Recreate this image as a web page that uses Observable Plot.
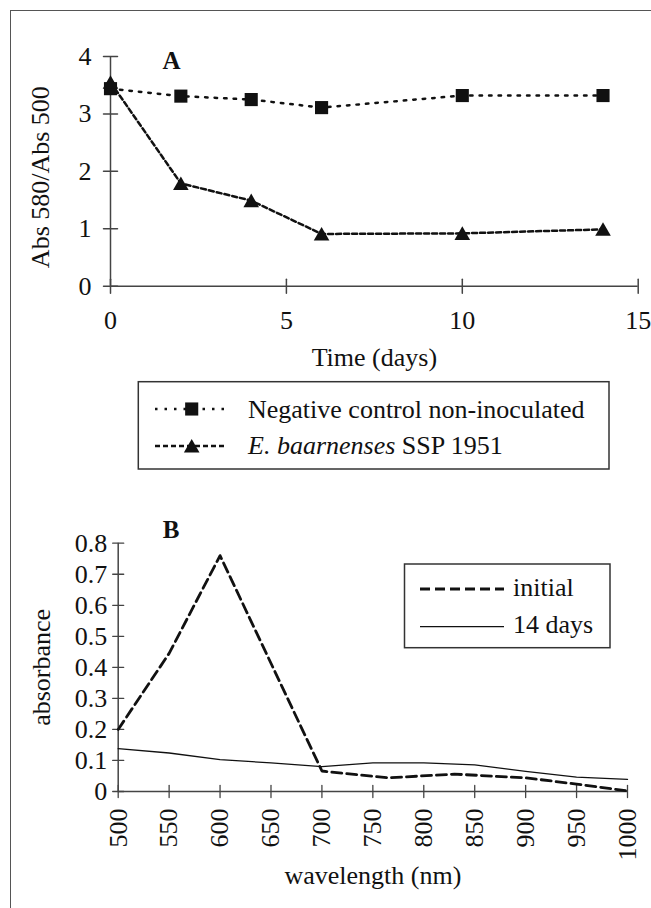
<!DOCTYPE html>
<html><head><meta charset="utf-8">
<script src="https://cdn.jsdelivr.net/npm/d3@7"></script>
<script src="https://cdn.jsdelivr.net/npm/@observablehq/plot@0.6"></script>
<style>
html,body{margin:0;padding:0;background:#fff;}
body{width:651px;height:908px;overflow:hidden;position:relative;font-family:"Liberation Serif","Times New Roman",serif;}
#frame{position:absolute;left:10px;top:10px;width:700px;height:1000px;border:1.5px solid #555;}
#a,#b{position:absolute;left:0;}
#a{top:0}
#b{top:500px}
svg{overflow:visible}
</style></head><body>
<div id="frame"></div>
<div id="a"></div>
<div id="b"></div>
<svg id="legA" width="651" height="908" style="position:absolute;left:0;top:0;pointer-events:none"></svg>
<script>
// ---- Panel A data ----
const days = [0, 2, 4, 6, 10, 14];
const control = [3.44, 3.31, 3.25, 3.11, 3.32, 3.32];
const ebaar = [3.55, 1.79, 1.49, 0.91, 0.92, 0.99];
const xTicksA = [0, 5, 10, 15];
const yTicksA = [0, 1, 2, 3, 4];
const seriesA = ["Negative control non-inoculated", "E. baarnenses SSP 1951"];

// ---- Panel B data ----
const wlInitial = [500, 550, 600, 700, 765, 830, 900, 950, 1000];
const absInitial = [0.20, 0.445, 0.76, 0.066, 0.044, 0.056, 0.044, 0.024, 0.002];
const wl14 = [500, 550, 600, 650, 700, 750, 800, 850, 900, 950, 1000];
const abs14 = [0.138, 0.124, 0.103, 0.092, 0.080, 0.092, 0.092, 0.086, 0.065, 0.046, 0.039];
const xTicksB = [500, 550, 600, 650, 700, 750, 800, 850, 900, 950, 1000];
const yTicksB = [0, 0.1, 0.2, 0.3, 0.4, 0.5, 0.6, 0.7, 0.8];
const yTickLabelsB = ["0", "0.1", "0.2", "0.3", "0.4", "0.5", "0.6", "0.7", "0.8"];
const seriesB = ["initial", "14 days"];

const FONT = "'Liberation Serif', 'Times New Roman', serif";
const AX = "#444";
const INK = "#111";
const tickShape = {draw(ctx, l) { ctx.moveTo(0, 0); ctx.lineTo(0, -l); }};

const tableA = days.map((d, i) => ({day: d, control: control[i], ebaar: ebaar[i]}));
const tableBi = wlInitial.map((w, i) => ({wl: w, v: absInitial[i]}));
const tableB14 = wl14.map((w, i) => ({wl: w, v: abs14[i]}));

const plotA = Plot.plot({
  width: 651, height: 380,
  marginLeft: 110, marginRight: 13.3, marginTop: 56, marginBottom: 94.3,
  style: {fontFamily: FONT, fontSize: "26px", color: INK, background: "transparent", overflow: "visible"},
  x: {domain: [0, 15]},
  y: {domain: [0, 4]},
  marks: [
    Plot.ruleX([0], {stroke: AX, strokeWidth: 1.5}),
    Plot.ruleY([0], {stroke: AX, strokeWidth: 1.5}),
    Plot.vector(xTicksA, {x: d => d, y: () => 0, length: 14, anchor: "middle", shape: tickShape, stroke: AX, strokeWidth: 1.5}),
    Plot.vector(yTicksA, {x: () => 0, y: d => d, length: 14, rotate: 90, anchor: "middle", shape: tickShape, stroke: AX, strokeWidth: 1.5}),
    Plot.axisX(xTicksA, {tickSize: 0, tickPadding: 24, label: null, fontSize: 26, tickFormat: d => String(d)}),
    Plot.axisY(yTicksA, {tickSize: 0, tickPadding: 19, label: null, fontSize: 26, tickFormat: d => String(d)}),
    Plot.line(tableA, {x: "day", y: "control", stroke: INK, strokeWidth: 2.5, strokeDasharray: "2.5 7"}),
    Plot.line(tableA, {x: "day", y: "ebaar", stroke: INK, strokeWidth: 2.5, strokeDasharray: "5 3"}),
    Plot.dot(tableA, {x: "day", y: "control", symbol: "square", r: 7.4, fill: INK, stroke: "none"}),
    Plot.dot(tableA, {x: "day", y: "ebaar", symbol: "triangle", r: 5.8, fill: INK, stroke: "none", dy: 2}),
    Plot.text(["Time (days)"], {frameAnchor: "bottom", dy: 79.3, lineAnchor: "bottom", textAnchor: "middle", fontSize: 26, fill: INK}),
    Plot.text(["Abs 580/Abs 500"], {frameAnchor: "left", rotate: -90, dx: -70, dy: 5.8, lineAnchor: "middle", textAnchor: "middle", fontSize: 26, fill: INK}),
    Plot.text(["A"], {frameAnchor: "top-left", dx: 61, dy: 12, lineAnchor: "bottom", textAnchor: "middle", fontSize: 25, fontWeight: "bold", fill: INK})
  ]
});
document.getElementById("a").append(plotA);

const plotB = Plot.plot({
  width: 651, height: 408,
  marginLeft: 117.7, marginRight: 24, marginTop: 42.7, marginBottom: 117,
  style: {fontFamily: FONT, fontSize: "26px", color: INK, background: "transparent", overflow: "visible"},
  x: {domain: [500, 1000]},
  y: {domain: [0, 0.8]},
  marks: [
    Plot.ruleX([500], {stroke: AX, strokeWidth: 1.5}),
    Plot.ruleY([0], {stroke: AX, strokeWidth: 1.5}),
    Plot.vector(xTicksB, {x: d => d, y: () => 0, length: 12, anchor: "middle", shape: tickShape, stroke: AX, strokeWidth: 1.3}),
    Plot.vector(yTicksB, {x: () => 500, y: d => d, length: 11, rotate: 90, anchor: "middle", shape: tickShape, stroke: AX, strokeWidth: 1.3}),
    Plot.axisX(xTicksB, {tickSize: 0, tickPadding: 17, tickRotate: -90, label: null, fontSize: 26, tickFormat: d => String(d)}),
    Plot.axisY(yTicksB, {tickSize: 0, tickPadding: 11, label: null, fontSize: 26, tickFormat: d => yTickLabelsB[yTicksB.indexOf(d)]}),
    Plot.line(tableB14, {x: "wl", y: "v", stroke: INK, strokeWidth: 1.3}),
    Plot.line(tableBi, {x: "wl", y: "v", stroke: INK, strokeWidth: 2.8, strokeDasharray: "10 5"}),
    Plot.text(["wavelength (nm)"], {frameAnchor: "bottom", dy: 92, lineAnchor: "bottom", textAnchor: "middle", fontSize: 26, fill: INK}),
    Plot.text(["absorbance"], {frameAnchor: "left", rotate: -90, dx: -76.2, dy: 0, lineAnchor: "middle", textAnchor: "middle", fontSize: 26, fill: INK}),
    Plot.text(["B"], {frameAnchor: "top-left", dx: 52.8, dy: -5.4, lineAnchor: "bottom", textAnchor: "middle", fontSize: 25, fontWeight: "bold", fill: INK})
  ]
});
document.getElementById("b").append(plotB);

// ---- Legends (overlay) ----
const leg = d3.select("#legA");
function symbolPath(type, r) { return d3.symbol(type, Math.PI * r * r)(); }
// Legend A
leg.append("rect").attr("x", 138.3).attr("y", 381.7).attr("width", 470.7).attr("height", 87.3)
  .attr("fill", "#fff").attr("stroke", "#333").attr("stroke-width", 1.5);
const rowsA = [
  {y: 409, dash: "2.5 7", sym: d3.symbolSquare, r: 7.4, dy: 0},
  {y: 446, dash: "5 3", sym: d3.symbolTriangle, r: 5.8, dy: 2}
];
rowsA.forEach(row => {
  leg.append("line").attr("x1", 155).attr("x2", 224).attr("y1", row.y).attr("y2", row.y)
    .attr("stroke", INK).attr("stroke-width", 2.5).attr("stroke-dasharray", row.dash);
  leg.append("path").attr("d", symbolPath(row.sym, row.r)).attr("transform", `translate(191.7,${row.y + row.dy})`).attr("fill", INK);
});
leg.append("text").attr("x", 248).attr("y", 417.5).attr("font-family", FONT).attr("font-size", 26).attr("fill", INK).text(seriesA[0]);
const t2 = leg.append("text").attr("x", 248).attr("y", 454).attr("font-family", FONT).attr("font-size", 26).attr("fill", INK);
t2.append("tspan").attr("font-style", "italic").text("E. baarnenses");
t2.append("tspan").text(" SSP 1951");

// Legend B
leg.append("rect").attr("x", 404.5).attr("y", 564).attr("width", 205.5).attr("height", 83.7)
  .attr("fill", "#fff").attr("stroke", "#333").attr("stroke-width", 1.5);
leg.append("line").attr("x1", 420).attr("x2", 504).attr("y1", 589).attr("y2", 589)
  .attr("stroke", INK).attr("stroke-width", 2.8).attr("stroke-dasharray", "10 5");
leg.append("line").attr("x1", 420).attr("x2", 504).attr("y1", 626.7).attr("y2", 626.7)
  .attr("stroke", INK).attr("stroke-width", 1.3);
leg.append("text").attr("x", 513).attr("y", 596).attr("font-family", FONT).attr("font-size", 26).attr("fill", INK).text(seriesB[0]);
leg.append("text").attr("x", 513).attr("y", 633).attr("font-family", FONT).attr("font-size", 26).attr("fill", INK).text(seriesB[1]);
</script>
</body></html>
